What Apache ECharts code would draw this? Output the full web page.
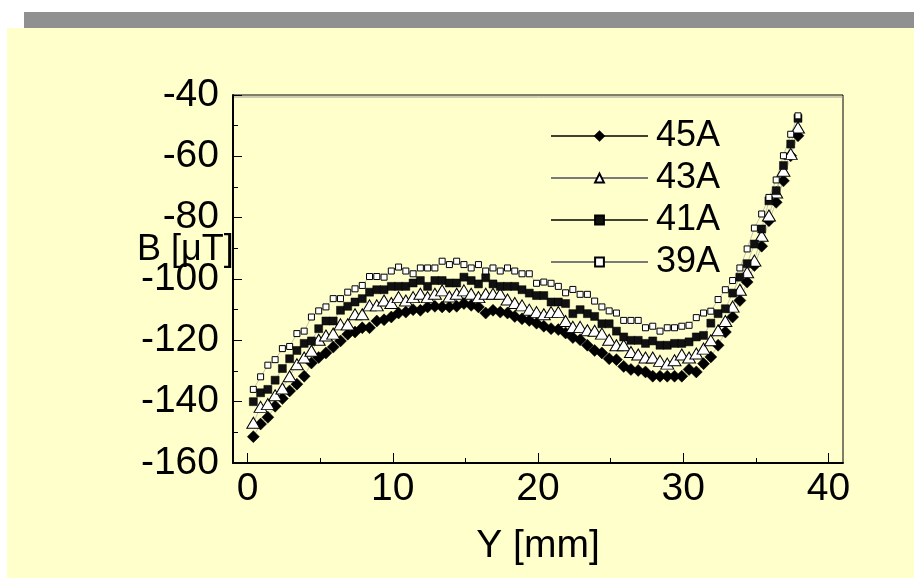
<!DOCTYPE html>
<html>
<head>
<meta charset="utf-8">
<title>B vs Y</title>
<script src="https://cdn.jsdelivr.net/npm/echarts@6/dist/echarts.min.js"></script>
<style>
  html, body { margin: 0; padding: 0; background: #ffffff; }
  #chart { width: 914px; height: 578px; }
</style>
</head>
<body>
<div id="chart"></div>
<script>
// Probe positions along Y [mm]
const positions = [0.4,0.9,1.4,1.9,2.4,2.9,3.4,3.9,4.4,4.9,5.4,5.9,6.4,6.9,7.4,7.9,8.4,8.9,9.4,9.9,
  10.4,10.9,11.4,11.9,12.4,12.9,13.4,13.9,14.4,14.9,15.4,15.9,16.4,16.9,17.4,17.9,18.4,18.9,19.4,19.9,
  20.4,20.9,21.4,21.9,22.4,22.9,23.4,23.9,24.4,24.9,25.4,25.9,26.4,26.9,27.4,27.9,28.4,28.9,29.4,29.9,
  30.4,30.9,31.4,31.9,32.4,32.9,33.4,33.9,34.4,34.9,35.4,35.9,36.4,36.9,37.4,37.9];

// Measured field B [µT] for each coil current
const b45A = [-151.4,-147.3,-145.1,-141.5,-139.0,-136.5,-134.3,-131.7,-127.4,-125.6,
  -124.1,-122.2,-120.2,-118.0,-117.3,-115.9,-115.9,-113.7,-113.3,-112.4,
  -111.1,-110.8,-110.0,-110.2,-109.1,-108.9,-109.1,-109.1,-108.9,-108.0,
  -108.6,-109.1,-111.1,-110.2,-110.8,-111.1,-112.2,-113.0,-113.5,-114.4,
  -115.4,-116.2,-116.5,-117.6,-119.1,-119.8,-121.6,-123.3,-124.1,-126.0,
  -126.3,-128.5,-129.5,-129.8,-130.3,-131.7,-131.7,-131.7,-131.7,-131.7,
  -129.5,-130.3,-127.6,-125.4,-121.6,-117.3,-112.4,-107.0,-101.0,-95.6,
  -89.3,-81.0,-75.0,-68.0,-59.8,-53.3];

const b43A = [-146.9,-141.7,-140.8,-137.9,-135.7,-131.7,-127.8,-125.6,-123.4,-119.8,
  -118.4,-117.8,-114.8,-114.8,-111.5,-111.5,-108.6,-108.6,-107.0,-107.8,
  -105.9,-107.0,-105.9,-104.8,-105.9,-104.8,-103.7,-105.7,-104.8,-103.7,
  -104.8,-105.9,-104.8,-104.8,-104.8,-106.7,-107.8,-108.6,-110.0,-110.8,
  -111.5,-110.8,-110.8,-113.7,-115.6,-115.6,-116.7,-116.9,-117.8,-119.8,
  -121.6,-121.6,-123.8,-124.6,-125.6,-125.6,-126.7,-127.6,-126.5,-124.6,
  -125.6,-124.3,-122.7,-120.0,-116.7,-113.7,-109.0,-103.5,-97.8,-94.0,
  -85.9,-79.3,-71.8,-64.7,-59.2,-50.6];

const b41A = [-140.0,-137.1,-136.0,-133.0,-129.2,-126.0,-123.3,-121.0,-120.2,-116.2,
  -113.7,-113.7,-110.2,-108.9,-107.5,-106.4,-104.3,-103.5,-103.5,-102.4,
  -102.4,-102.4,-101.3,-100.5,-102.4,-100.5,-100.5,-101.3,-101.3,-99.4,
  -100.5,-101.6,-99.6,-101.6,-102.4,-102.4,-102.4,-103.5,-104.6,-105.4,
  -105.4,-107.5,-107.5,-108.0,-111.3,-110.0,-111.3,-112.2,-114.6,-114.6,
  -117.0,-118.9,-120.0,-120.0,-121.0,-120.2,-121.6,-121.6,-121.0,-121.0,
  -120.5,-118.9,-118.4,-114.4,-111.3,-109.7,-104.6,-99.4,-95.0,-88.6,
  -83.7,-74.5,-71.2,-63.0,-56.0,-47.6];

const b39A = [-136.0,-131.9,-128.1,-126.3,-122.7,-122.0,-117.8,-117.0,-112.4,-110.4,
  -109.1,-106.4,-106.4,-104.3,-103.2,-102.1,-99.2,-99.2,-99.4,-97.4,
  -96.1,-97.4,-98.3,-96.4,-96.4,-96.4,-94.2,-95.3,-94.2,-95.3,
  -96.4,-95.3,-97.4,-96.4,-97.4,-96.4,-97.4,-98.3,-98.3,-101.4,
  -101.0,-101.4,-102.4,-104.5,-103.4,-105.0,-105.0,-107.2,-109.1,-110.4,
  -111.1,-113.5,-113.5,-113.5,-115.9,-115.4,-117.0,-115.9,-115.9,-115.4,
  -115.1,-112.6,-111.1,-110.5,-106.7,-103.5,-100.5,-96.4,-90.2,-83.4,
  -78.8,-73.4,-67.7,-59.8,-52.8,-46.8];

const seriesNames = ['45A', '43A', '41A', '39A'];
const xMajorTicks = [0, 10, 20, 30, 40];
const xMinorTicks = [5, 15, 25, 35];

const FONT = "'Liberation Sans', Arial, sans-serif";

function pairs(values) {
  return positions.map((p, i) => [p, values[i]]);
}

const markerStyles = {
  '45A': { symbol: 'diamond', symbolSize: 12, itemStyle: { color: '#000', borderColor: '#000', borderWidth: 0.5 } },
  '43A': { symbol: 'triangle', symbolSize: [13, 11], itemStyle: { color: '#fff', borderColor: '#000', borderWidth: 1 } },
  '41A': { symbol: 'rect', symbolSize: 8, itemStyle: { color: '#111', borderColor: '#000', borderWidth: 0.5 } },
  '39A': { symbol: 'rect', symbolSize: 6, itemStyle: { color: '#fff', borderColor: '#000', borderWidth: 1 } }
};
const valueSets = { '45A': b45A, '43A': b43A, '41A': b41A, '39A': b39A };

const chart = echarts.init(document.getElementById('chart'), null, { renderer: 'canvas' });

chart.setOption({
  backgroundColor: '#ffffff',
  animation: false,
  textStyle: { fontFamily: FONT },
  graphic: [
    { type: 'rect', z: -10, silent: true, shape: { x: 7, y: 28, width: 907, height: 550 }, style: { fill: '#ffffcc' } },
    { type: 'rect', z: -10, silent: true, shape: { x: 24, y: 12, width: 890, height: 16 }, style: { fill: '#909090' } },
    // soft second stroke under the top frame edge
    { type: 'line', z: 5, silent: true, shape: { x1: 234, y1: 97, x2: 843, y2: 97 }, style: { stroke: '#9a9a9a', lineWidth: 1 } },
    { type: 'text', z: 10, left: 137, top: 232, style: { text: 'B [\u03bcT]', font: "36px 'Liberation Sans', Arial, sans-serif", fill: '#000' } }
  ],
  grid: {
    left: 233, right: 71, top: 95, bottom: 115,
    show: true, borderColor: '#000', borderWidth: 1, backgroundColor: 'transparent'
  },
  legend: {
    orient: 'vertical',
    left: 550, top: 117,
    itemWidth: 97, itemHeight: 11, itemGap: 4,
    padding: 0,
    textStyle: { fontSize: 36, lineHeight: 38, color: '#000', fontFamily: FONT, padding: [0, 0, 0, 3] },
    data: [
      { name: '45A', lineStyle: { color: '#000', width: 1.5 } },
      { name: '43A', lineStyle: { color: '#7a7a7a', width: 2 } },
      { name: '41A', lineStyle: { color: '#000', width: 1.5 } },
      { name: '39A', lineStyle: { color: '#7a7a7a', width: 2 } }
    ]
  },
  xAxis: [
    {
      type: 'value', min: -1, max: 41,
      name: 'Y [mm]', nameLocation: 'middle', nameGap: 64,
      nameTextStyle: { fontSize: 39, color: '#000', fontFamily: FONT },
      axisLine: { show: true, onZero: false, lineStyle: { color: '#000', width: 2 } },
      axisTick: { show: true, inside: true, length: 10, customValues: xMajorTicks, lineStyle: { color: '#000', width: 1 } },
      axisLabel: { show: true, customValues: xMajorTicks, fontSize: 39, color: '#000', margin: 7, fontFamily: FONT },
      splitLine: { show: false }
    },
    {
      type: 'value', min: -1, max: 41, position: 'bottom',
      axisLine: { show: false },
      axisTick: { show: true, inside: true, length: 5, customValues: xMinorTicks, lineStyle: { color: '#000', width: 1 } },
      axisLabel: { show: false },
      splitLine: { show: false }
    }
  ],
  yAxis: {
    type: 'value', min: -160, max: -40, interval: 20,
    axisLine: { show: true, onZero: false, lineStyle: { color: '#000', width: 2 } },
    axisTick: { show: true, inside: true, length: 9, lineStyle: { color: '#000', width: 1 } },
    minorTick: { show: true, splitNumber: 2, length: 5, lineStyle: { color: '#000', width: 1 } },
    axisLabel: { fontSize: 39, color: '#000', margin: 14, fontFamily: FONT },
    splitLine: { show: false },
    minorSplitLine: { show: false }
  },
  series: seriesNames.map(name => Object.assign({
    name: name,
    type: 'line',
    xAxisIndex: 0,
    data: pairs(valueSets[name]),
    showAllSymbol: true,
    lineStyle: { color: '#8a8a8a', width: 0.5 },
    emphasis: { disabled: true }
  }, markerStyles[name]))
});
</script>
</body>
</html>
